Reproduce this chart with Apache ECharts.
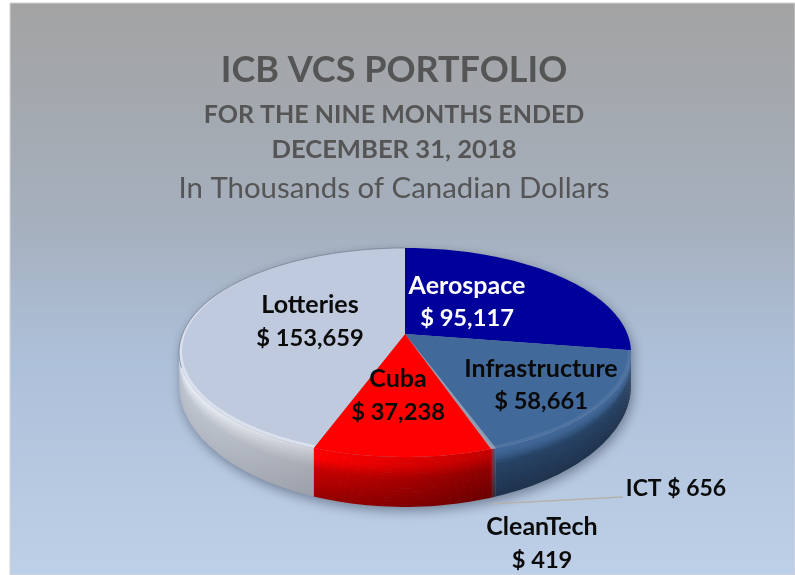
<!DOCTYPE html>
<html><head><meta charset="utf-8">
<style>html,body{margin:0;padding:0;background:#fff}#c{width:795px;height:575px}</style>
<script src="https://cdn.jsdelivr.net/npm/echarts@6/dist/echarts.min.js"></script>
</head><body><div id="c"></div>
<script>
// ---- data ----
const categories = ['Aerospace','Infrastructure','ICT','CleanTech','Cuba','Lotteries'];
const values = [95117,58661,656,419,37238,153659];
const faceColors = ['#00009a','#41699a','#8b9db5','#a89aa4','#ff0000','#bfcade'];
const titleLines = ['ICB VCS PORTFOLIO','FOR THE NINE MONTHS ENDED','DECEMBER 31, 2018','In Thousands of Canadian Dollars'];

// ---- layout & style (not data) ----
const P = {cx:405, cy:334, a:222.4, b:101.2, k:0.177, D:30.7, n:2.5};
const side = {
  Aerospace:{stops:[[0,[0,0,150]],[1,[0,0,90]]],fL:1,fR:1},
  Infrastructure:{stops:[[0,[65,105,154]],[.14,[60,97,144]],[.34,[38,66,100]],[1,[30,50,76]]],fL:1,fR:1},
  ICT:{stops:[[0,[80,90,110]],[1,[50,40,50]]],fL:1,fR:1},
  CleanTech:{stops:[[0,[150,30,40]],[1,[90,10,15]]],fL:1,fR:1},
  Cuba:{stops:[[0,[255,0,0]],[.15,[238,0,0]],[.42,[178,0,0]],[1,[135,0,0]]],fL:1.12,fR:.78},
  Lotteries:{stops:[[0,[230,233,240]],[.12,[214,218,226]],[.4,[184,189,199]],[1,[172,177,188]]],fL:1.06,fR:.9}
};
const rim = {Infrastructure:.07,Lotteries:.42};
const labels = {
  Aerospace:{x:467,y:[286,318],color:'#fff'},
  Infrastructure:{x:541,y:[369,401],color:'#0a0a0a'},
  ICT:{x:676,y:[489],color:'#0a0a0a',inline:true},
  CleanTech:{x:542,y:[527,560],color:'#0a0a0a'},
  Cuba:{x:398,y:[379,412],color:'#0a0a0a'},
  Lotteries:{x:310,y:[305,338],color:'#0a0a0a'}
};
const titleStyle = [
  {top:47,size:36,weight:'bold'},
  {top:97,size:25,weight:'bold'},
  {top:132,size:25.6,weight:'bold'},
  {top:169,size:29.4,weight:'normal'}
];
const FONT = 'Lato';

// ---- geometry helpers: perspective ellipse ----
const total = values.reduce((s,v)=>s+v,0);
const DEG = Math.PI/180;
function pt(th,r){
  const u=Math.sin(th)*r, v=Math.cos(th)*r, d=1+P.k*v;
  return [P.cx+P.a*u/d, P.cy-P.b*v/d];
}
function depth(th){ return P.D/Math.pow(1+P.k*Math.cos(th),P.n); }
function arc(t0,t1,r,off){
  const n=Math.max(2,Math.ceil(Math.abs(t1-t0)/(1.5*DEG))), o=[];
  for(let i=0;i<=n;i++){
    const th=t0+(t1-t0)*i/n, p=pt(th,r);
    o.push([p[0],p[1]+(off?off*depth(th):0)]);
  }
  return o;
}
function colorAt(stops,t,f){
  let i=0; while(i<stops.length-2 && t>stops[i+1][0]) i++;
  const a=stops[i],b=stops[i+1],q=Math.min(1,Math.max(0,(t-a[0])/(b[0]-a[0])));
  const c=a[1].map((x,j)=>Math.min(255,Math.round((x+(b[1][j]-x)*q)*f)));
  return 'rgb('+c.join(',')+')';
}
const SV0=Math.acos(-P.k), SV1=2*Math.PI-SV0;
const angles=[]; { let s=0; values.forEach(v=>{const e=s+v/total*2*Math.PI; angles.push([s,e]); s=e;}); }

function renderSlice(params,api){
  const idx=api.value(0), name=categories[idx], [s,e]=angles[idx], ch=[];
  if(idx===0){
    const sil=arc(SV0,SV1,1,1).concat(arc(SV1,SV0+2*Math.PI,1,0));
    ch.push({type:'polygon',shape:{points:sil},z2:0,style:{fill:'#8f9bb0',shadowBlur:12,shadowColor:'rgba(55,65,85,.55)',shadowOffsetY:4,shadowOffsetX:2}});
  }
  const v0=Math.max(s,SV0), v1=Math.min(e,SV1);
  if(v1>v0){
    const cfg=side[name], N=16;
    const edge=arc(v0,v1,1,0).map(p=>p[0]), xA=Math.min(...edge), xB=Math.max(...edge);
    for(let i=0;i<N;i++){
      const t0=i/N,t1=(i+1)/N,tm=(t0+t1)/2;
      const top=arc(v0,v1,1,t0), bot=arc(v0,v1,1,t1).map(p=>[p[0],p[1]+(i<N-1?.6:0)]).reverse();
      ch.push({type:'polygon',shape:{points:top.concat(bot)},z2:1+i,style:{fill:{
        type:'linear',global:true,x:xA,y:0,x2:xB+.01,y2:0,
        colorStops:[{offset:0,color:colorAt(cfg.stops,tm,cfg.fL)},{offset:1,color:colorAt(cfg.stops,tm,cfg.fR)}]
      }}});
    }
  }
  const face=[pt(0,0)].concat(arc(s,e,1,0));
  ch.push({type:'polygon',shape:{points:face},z2:30,style:{fill:faceColors[idx]}});
  if(rim[name]){
    const n=Math.ceil((e-s)/(1.5*DEG)), out=[], inn=[];
    for(let i=0;i<=n;i++){
      const th=s+(e-s)*i/n, w=.004+.016*(1-Math.cos(th))/2;
      out.push(pt(th,1)); inn.push(pt(th,1-w));
    }
    ch.push({type:'polygon',shape:{points:out.concat(inn.reverse())},z2:31,style:{fill:'rgba(255,255,255,'+rim[name]+')'}});
  }
  if(name==='Lotteries'){
    ch.push({type:'polyline',shape:{points:arc(SV1-8*DEG,e,1,0)},z2:32,style:{stroke:'rgba(110,120,140,.7)',lineWidth:1,fill:null}});
  }
  if(name==='ICT'){
    const m=pt((s+e)/2,1), o=depth((s+e)/2);
    ch.push({type:'line',shape:{x1:m[0]-3,y1:m[1]+o+7,x2:623,y2:497},z2:33,style:{stroke:'#b7b0a8',lineWidth:1.3}});
  }
  const L=labels[name], val='$ '+values[idx].toLocaleString('en-US');
  const lines=L.inline?[name+' '+val]:[name,val];
  lines.forEach((txt,i)=>{
    const size=L.inline?23:(i===0?25:23.7);
    ch.push({type:'text',z2:50,style:{
      text:txt,x:L.x,y:L.y[i],align:'center',verticalAlign:'middle',
      fill:L.color,font:'bold '+size+'px '+FONT
    }});
  });
  return {type:'group',children:ch};
}

const chart=echarts.init(document.getElementById('c'),null,{renderer:'canvas'});
chart.setOption({
  animation:false,
  backgroundColor:'#fff',
  title:titleLines.map((t,i)=>({
    text:t,left:389,top:titleStyle[i].top,textAlign:'center',
    textStyle:{color:'#555555',fontFamily:FONT,fontSize:titleStyle[i].size,fontWeight:titleStyle[i].weight}
  })),
  graphic:[{type:'rect',z:-10,silent:true,shape:{x:10,y:3,width:785,height:572},
    style:{fill:{type:'linear',x:0,y:0,x2:0,y2:1,colorStops:[
      {offset:0,color:'#a3a3a3'},{offset:.37,color:'#a5afbc'},{offset:.62,color:'#adc0d9'},{offset:1,color:'#bed0e8'}]},
      stroke:'#d4d4d4',lineWidth:1}}],
  series:[{type:'custom',coordinateSystem:'none',renderItem:renderSlice,clip:false,
    data:values.map((v,i)=>[i,v])}]
});
</script></body></html>
